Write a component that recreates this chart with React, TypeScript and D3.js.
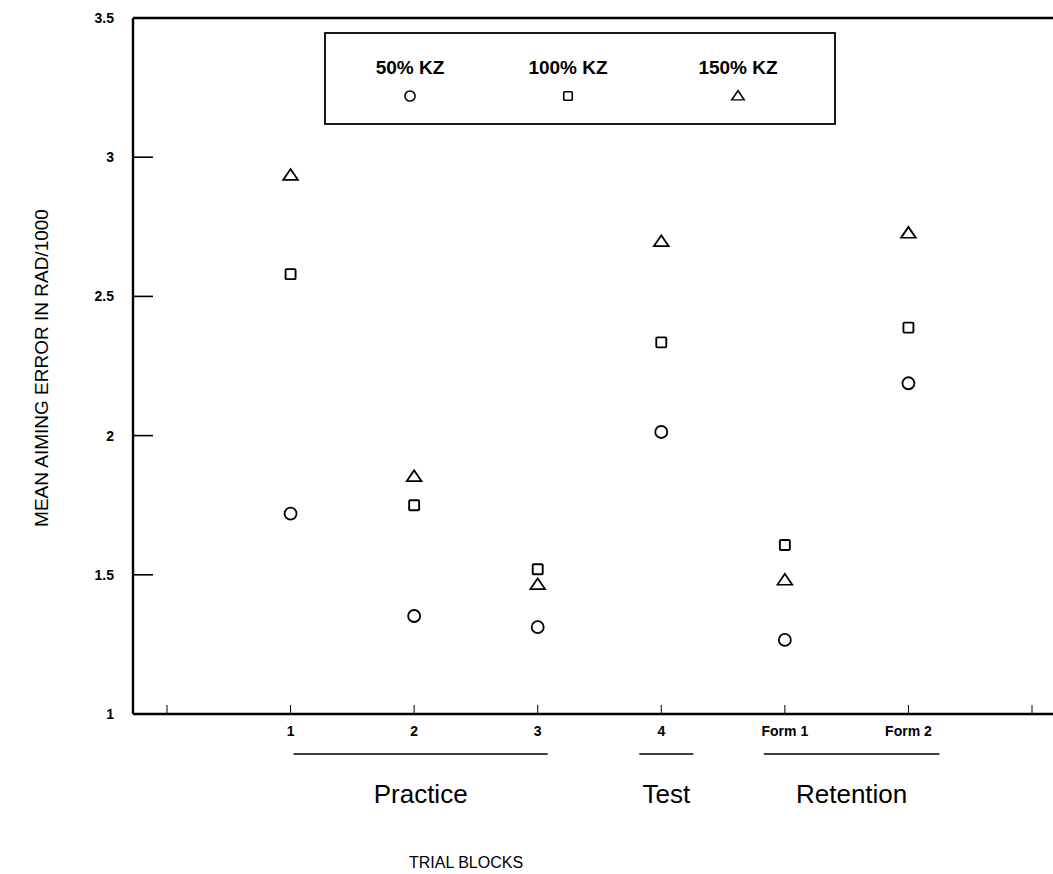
import React from "react";
import * as d3 from "d3";

const tickPositions = [0, 1, 2, 3, 4, 5, 6, 7];
const tickLabels = ["", "1", "2", "3", "4", "Form 1", "Form 2", ""];
const blocks = [1, 2, 3, 4, 5, 6];
const kz50 = [1.72, 1.352, 1.312, 2.013, 1.266, 2.188];
const kz100 = [2.58, 1.75, 1.52, 2.335, 1.607, 2.388];
const kz150 = [2.935, 1.853, 1.465, 2.697, 1.481, 2.727];
const yTicks = [1, 1.5, 2, 2.5, 3, 3.5];
const seriesNames = ["50% KZ", "100% KZ", "150% KZ"];
const groupLabels = ["Practice", "Test", "Retention"];
const groupFrom = [1, 4, 5];
const groupTo = [3, 4, 6];

const W = 1053;
const H = 874;
const x = d3.scaleLinear().domain([0, 7]).range([167, 1032]);
const y = d3.scaleLinear().domain([1, 3.5]).range([714, 18]);
const axisLeft = 133;
const axisRight = 1053;
// underline padding (left, right) per group, in px
const padL = [-3, 22, 21];
const padR = [10, 32, 31];
const labelShift = [0, 0, 0];

const font = "'Liberation Sans', Arial, Helvetica, sans-serif";

function Marker({ kind, cx, cy }: { kind: number; cx: number; cy: number }) {
  if (kind === 0) return <circle cx={cx} cy={cy} r={6} fill="white" stroke="black" strokeWidth={1.8} />;
  if (kind === 1)
    return <rect x={cx - 5} y={cy - 5} width={10} height={10} rx={1} fill="white" stroke="black" strokeWidth={1.9} />;
  const tri = d3.symbol().type(d3.symbolTriangle).size(75)();
  return (
    <path d={tri as string} transform={`translate(${cx},${cy + 1}) scale(1.12,0.95)`} fill="white" stroke="black" strokeWidth={1.7} />
  );
}

export default function App() {
  const series = [kz50, kz100, kz150];
  const legendX = [410, 568, 738];
  return (
    <svg width={W} height={H} style={{ position: "absolute", left: 0, top: 0, background: "white" }} fontFamily={font}>
      <rect width={W} height={H} fill="white" />
      {/* axes frame */}
      <line x1={axisLeft} y1={y(3.5)} x2={axisLeft} y2={y(1)} stroke="black" strokeWidth={2.4} />
      <line x1={axisLeft} y1={y(1)} x2={axisRight} y2={y(1)} stroke="black" strokeWidth={2.4} />
      <line x1={axisLeft} y1={y(3.5)} x2={axisRight} y2={y(3.5)} stroke="black" strokeWidth={2.4} />
      {/* y ticks */}
      {yTicks.map((t) => (
        <g key={t}>
          {t > 1 && t < 3.5 && <line x1={axisLeft} x2={axisLeft + 20} y1={y(t)} y2={y(t)} stroke="black" strokeWidth={1.6} />}
          <text x={114} y={y(t)} dy="0.36em" textAnchor="end" fontSize={14} fontWeight="bold">
            {String(t)}
          </text>
        </g>
      ))}
      {/* x ticks */}
      {tickPositions.map((p, i) => (
        <g key={p}>
          <line x1={x(p)} x2={x(p)} y1={y(1)} y2={y(1) - 9} stroke="black" strokeWidth={1} />
          {tickLabels[i] && (
            <text x={x(p)} y={736} textAnchor="middle" fontSize={14} fontWeight="bold">
              {tickLabels[i]}
            </text>
          )}
        </g>
      ))}
      {/* group underlines */}
      {groupLabels.map((g, i) => {
        const x1 = x(groupFrom[i]) - padL[i];
        const x2 = x(groupTo[i]) + padR[i];
        const cx = (x1 + x2) / 2 + labelShift[i];
        return (
          <g key={g}>
            <line x1={x1} x2={x2} y1={754} y2={754} stroke="black" strokeWidth={1.5} />
            <text x={cx} y={803} textAnchor="middle" fontSize={26}>
              {g}
            </text>
          </g>
        );
      })}
      {/* data */}
      {series.map((s, k) =>
        s.map((v, i) => <Marker key={`${k}-${i}`} kind={k} cx={x(blocks[i])} cy={y(v)} />)
      )}
      {/* legend */}
      <rect x={325} y={33} width={510} height={91} fill="white" stroke="black" strokeWidth={1.8} />
      {seriesNames.map((n, k) => (
        <g key={n}>
          <text x={legendX[k]} y={74} textAnchor="middle" fontSize={19} fontWeight="bold">
            {n}
          </text>
          <g transform={`translate(${legendX[k]},96) scale(0.85)`}>
            <Marker kind={k} cx={0} cy={0} />
          </g>
        </g>
      ))}
      {/* axis titles */}
      <text x={466} y={868} textAnchor="middle" fontSize={16}>
        TRIAL BLOCKS
      </text>
      <text transform={`translate(48,368) rotate(-90)`} textAnchor="middle" fontSize={19}>
        MEAN AIMING ERROR IN RAD/1000
      </text>
    </svg>
  );
}
